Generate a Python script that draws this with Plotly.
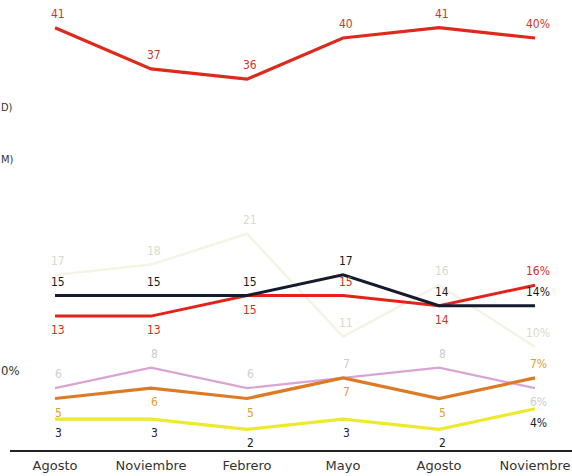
import plotly.graph_objects as go

# ---- data ----
months = ["Agosto", "Noviembre", "Febrero", "Mayo", "Agosto", "Noviembre"]
x_idx = [0, 1, 2, 3, 4, 5]

top_red = [41, 37, 36, 40, 41, 40]
navy = [15, 15, 15, 17, 14, 14]
red = [13, 13, 15, 15, 14, 16]
faint = [17, 18, 21, 11, 16, 10]
pink = [6, 8, 6, 7, 8, 6]
orange = [5, 6, 5, 7, 5, 7]
yellow = [3, 3, 2, 3, 2, 4]

# label side: 1 above, -1 below
top_red_pos = [1, 1, 1, 1, 1, 1]
navy_pos = [1, 1, 1, 1, 1, 1]
red_pos = [-1, -1, -1, 1, -1, 1]
faint_pos = [1, 1, 1, 1, 1, 1]
pink_pos = [1, 1, 1, 1, 1, -1]
orange_pos = [-1, -1, -1, -1, -1, 1]
yellow_pos = [-1, -1, -1, -1, -1, -1]

FONT = "DejaVu Sans Condensed, Liberation Sans Narrow, Open Sans, sans-serif"
TICKFONT = "DejaVu Sans, Verdana, sans-serif"

series = [
    # values, positions, line color, width, label color
    (faint, faint_pos, "#f4f3e4", 2.5, "#dadacb"),
    (pink, pink_pos, "#daa4d2", 2.2, "#cdcdcd"),
    (orange, orange_pos, "#dc7a26", 3.2, "#d9a32a"),
    (yellow, yellow_pos, "#ecea2c", 3.2, "#222222"),
    (red, red_pos, "#e3231b", 3.0, "#d2301f"),
    (navy, navy_pos, "#151a2c", 3.0, "#1a1a1a"),
    (top_red, top_red_pos, "#dc2a1c", 3.2, "#c9392a"),
]

fig = go.Figure()
annotations = []
for vals, pos, col, w, lcol in series:
    fig.add_trace(go.Scatter(x=x_idx, y=vals, mode="lines",
                             line=dict(color=col, width=w),
                             hoverinfo="skip", showlegend=False))
    for i, (v, p) in enumerate(zip(vals, pos)):
        txt = f"{v}%" if i == len(vals) - 1 else f"{v}"
        annotations.append(dict(x=x_idx[i], y=v, xref="x", yref="y",
                                text=txt, showarrow=False,
                                yshift=14 * p, xshift=3,
                                font=dict(family=FONT, size=12, color=lcol)))

# cut-off legend fragments at the left edge
for txt, yy, sz in [("D)", 0.78, 11), ("M)", 0.645, 11), ("0%", 0.155, 13)]:
    annotations.append(dict(x=0, y=yy, xref="paper", yref="paper",
                            text=txt, showarrow=False, xanchor="left",
                            xshift=-11,
                            font=dict(family=FONT, size=sz, color="#333333")))

fig.update_layout(
    width=572, height=476,
    margin=dict(l=10, r=0, t=0, b=26),
    paper_bgcolor="white", plot_bgcolor="white",
    annotations=annotations,
    xaxis=dict(range=[-0.469, 5.385], tickvals=x_idx, ticktext=months,
               showgrid=False, zeroline=False, showline=True,
               linecolor="#222222", linewidth=1.5, ticks="",
               ticklabeloverflow="allow", ticklabelstandoff=3,
               tickfont=dict(family=TICKFONT, size=13, color="#333333")),
    yaxis=dict(range=[0, 43.69], visible=False, showgrid=False),
)

fig.write_html("out.html",
               config={"displayModeBar": False},
               post_script="document.body.style.margin='0px';")
